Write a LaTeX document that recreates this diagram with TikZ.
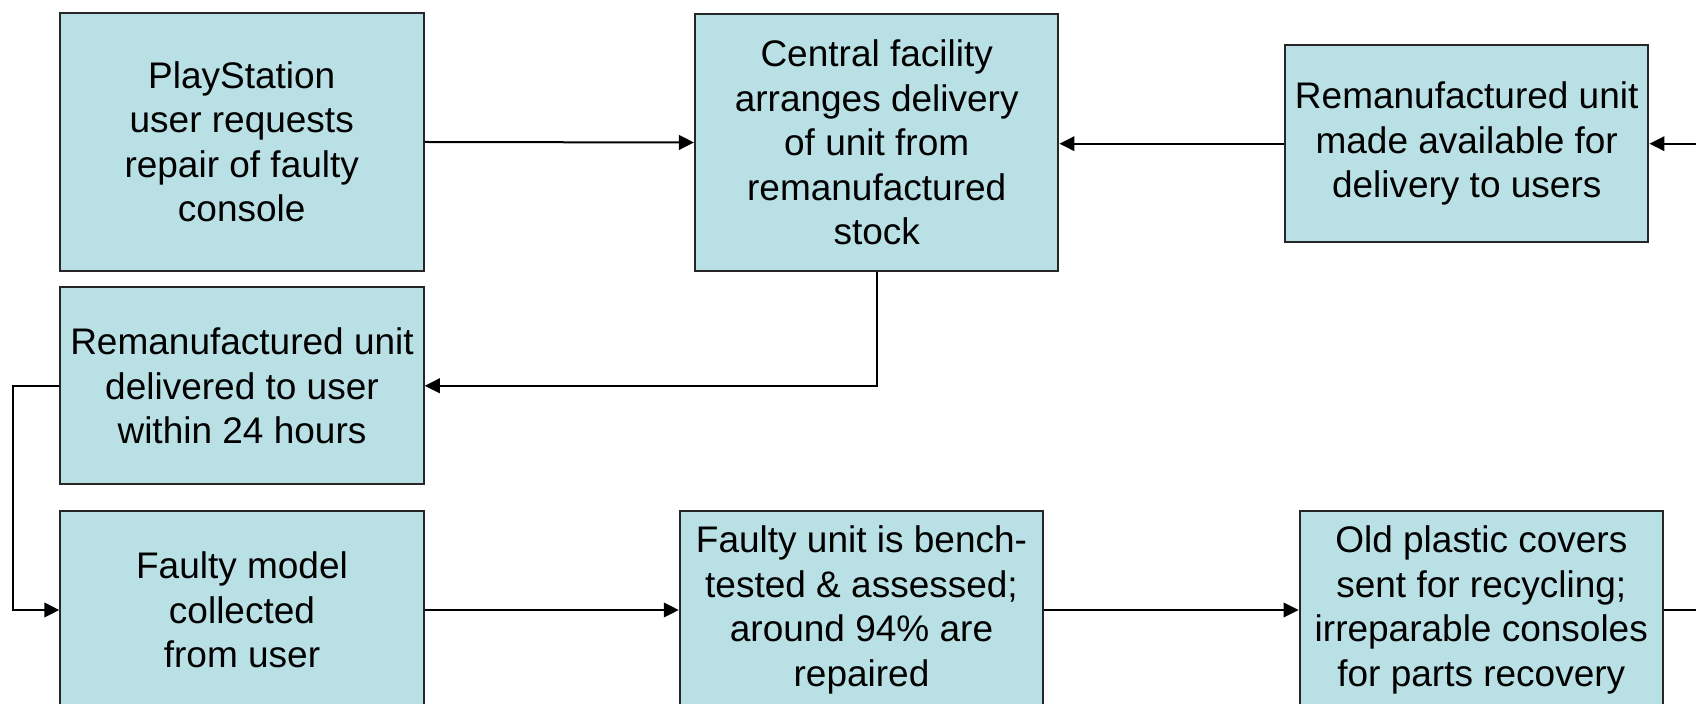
\documentclass[tikz,border=0pt]{standalone}
\usepackage{fontspec}
\setmainfont{Liberation Sans}
\usetikzlibrary{arrows.meta}
\definecolor{boxfill}{RGB}{185,224,228}
\begin{document}
\begin{tikzpicture}[x=0.5pt,y=-0.5pt,
  stepbox/.style={draw=black!85, line width=1pt, fill=boxfill, inner sep=0pt,
    minimum width=181.75pt, align=center, font=\fontsize{18.5}{22.25}\selectfont},
  tallbox/.style={minimum height=128.7pt},
  shortbox/.style={minimum height=98.5pt},
  conn/.style={line width=1pt, -{Triangle[length=7.5pt,width=7.3pt]}},
  plainline/.style={line width=1pt}]
\useasboundingbox (0,0) rectangle (1696,704);
\begin{scope}
\clip (0,0) rectangle (1696,704);
\node[stepbox,tallbox] (b1) at (241.75,142) {PlayStation\\user requests\\repair of faulty\\console};
\node[stepbox,tallbox] (b2) at (876.7,142.5) {Central facility\\arranges delivery\\of unit from\\remanufactured\\stock};
\node[stepbox,shortbox] (b3) at (1466.7,143.7) {Remanufactured unit\\made available for\\delivery to users};
\node[stepbox,shortbox] (b4) at (242,385.8) {Remanufactured unit\\delivered to user\\within 24 hours};
\node[stepbox,shortbox] (b5) at (242,610) {Faulty model\\collected\\from user};
\node[stepbox,shortbox] (b6) at (861.5,610) {Faulty unit is bench-\\tested \& assessed;\\around 94\% are\\repaired};
\node[stepbox,shortbox] (b7) at (1481.3,610) {Old plastic covers\\sent for recycling;\\irreparable consoles\\for parts recovery};
\coordinate (rin) at (1696,143.7);
\coordinate (rout) at (1696,610);
\coordinate (lbend) at (12.5,385.8);
\draw[conn] (b1.east) -- (b2.west);
\draw[conn] (b3.west) -- (b3.west -| b2.east);
\draw[conn] (rin) -- (b3.east);
\draw[conn] (b2.south) |- (b4.east);
\draw[conn] (b4.west) -- (lbend) |- (b5.west);
\draw[conn] (b5.east) -- (b6.west);
\draw[conn] (b6.east) -- (b7.west);
\draw[plainline] (b7.east) -- (rout);
\end{scope}
\end{tikzpicture}
\end{document}
